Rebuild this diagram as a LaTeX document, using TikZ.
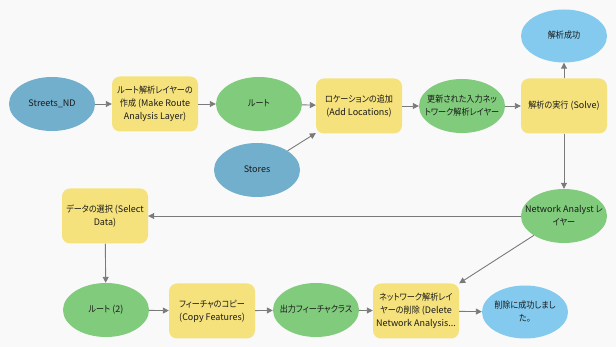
\documentclass[tikz,border=0pt]{standalone}
\usepackage{fontspec}
\setmainfont[RawFeature={+palt}]{Noto Sans CJK JP}
\newfontfamily\jfont[RawFeature={+palt},FakeStretch=0.9]{Noto Sans CJK JP}
\newcommand{\J}[1]{{\jfont #1}}
\usetikzlibrary{shapes.geometric,arrows.meta}
\definecolor{bgc}{HTML}{F9F9F9}
\definecolor{inblue}{HTML}{71AFCC}
\definecolor{outblue}{HTML}{83CAEE}
\definecolor{dgreen}{HTML}{81CB7C}
\definecolor{tyellow}{HTML}{F5E27C}
\definecolor{edgec}{HTML}{7A7A7A}
\definecolor{txt}{HTML}{1A1A1A}
\newcommand{\ctxt}[1]{\makebox[0pt][c]{\begin{tabular}{@{}c@{}}#1\end{tabular}}}
\tikzset{
  base/.style={inner sep=0pt, text=txt, font=\fontsize{9}{13}\selectfont},
  inputnode/.style={base, ellipse, fill=inblue, minimum width=86pt, minimum height=54pt},
  outnode/.style={base, ellipse, fill=outblue, minimum width=86pt, minimum height=53pt},
  datanode/.style={base, ellipse, fill=dgreen, minimum width=86pt, minimum height=54pt},
  toolnode/.style={base, rectangle, rounded corners=8pt, fill=tyellow, minimum width=86pt, minimum height=55pt},
  conn/.style={draw=edgec, line width=0.9pt, -{Triangle[length=6pt,width=6pt]}},
}
\begin{document}
\begin{tikzpicture}[x=1pt,y=-1pt]
\fill[bgc] (0,0) rectangle (616,347);
\useasboundingbox (0,0) rectangle (616,347);
\node[inputnode] (streets) at (52,104) {\ctxt{Streets\_ND}};
\node[toolnode] (make) at (155,104) {\ctxt{\J{ルート解析レイヤーの}\\\J{作成} (Make Route\\Analysis Layer)}};
\node[datanode] (route) at (259,104) {\ctxt{\J{ルート}}};
\node[inputnode] (stores) at (257,170) {\ctxt{Stores}};
\node[toolnode] (addloc) at (359,106) {\ctxt{\J{ロケーションの追加}\\(Add Locations)}};
\node[datanode] (updated) at (462,106) {\ctxt{\J{更新された入力ネッ}\\\J{トワーク解析レイヤー}}};
\node[toolnode] (solve) at (564,106) {\ctxt{\J{解析の実行} (Solve)}};
\node[outnode] (success) at (564,36) {\ctxt{\J{解析成功}}};
\node[datanode] (nalayer) at (564,216) {\ctxt{Network Analyst \J{レ}\\\J{イヤー}}};
\node[toolnode] (select) at (105,216) {\ctxt{\J{データの選択} (Select\\Data)}};
\node[datanode] (route2) at (106,310) {\ctxt{\J{ルート} (2)}};
\node[toolnode] (copy) at (212,311) {\ctxt{\J{フィーチャのコピー}\\(Copy Features)}};
\node[datanode] (outfc) at (316,310) {\ctxt{\J{出力フィーチャクラス}}};
\node[toolnode] (delete) at (416,311) {\ctxt{\J{ネットワーク解析レイ}\\\J{ヤーの削除} (Delete\\Network Analysis...}};
\node[outnode] (delok) at (525,312) {\ctxt{\J{削除に成功しまし}\\\J{た。}}};
\draw[conn] (streets) -- (make);
\draw[conn] (make) -- (route);
\draw[conn] (route) -- (addloc);
\draw[conn] (stores) -- (addloc);
\draw[conn] (addloc) -- (updated);
\draw[conn] (updated) -- (solve);
\draw[conn] (solve) -- (success);
\draw[conn] (solve) -- (nalayer);
\draw[conn] (nalayer) -- (select);
\draw[conn] (select) -- (route2);
\draw[conn] (route2) -- (copy);
\draw[conn] (copy) -- (outfc);
\draw[conn] (outfc) -- (delete);
\draw[conn] (nalayer) -- (delete);
\draw[conn] (delete) -- (delok);
\end{tikzpicture}
\end{document}
